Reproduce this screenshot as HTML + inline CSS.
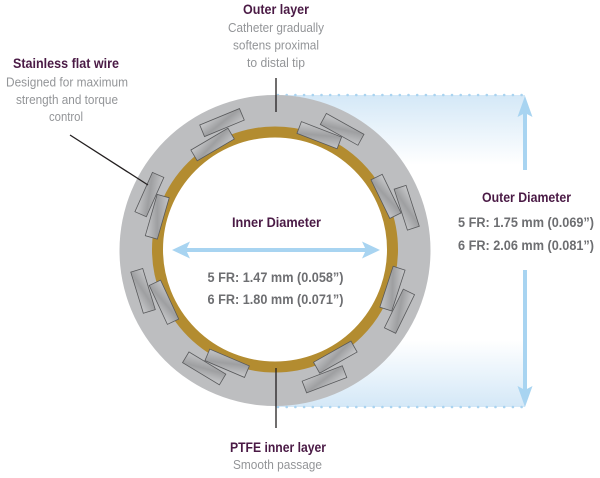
<!DOCTYPE html>
<html>
<head>
<meta charset="utf-8">
<style>
  html, body { margin: 0; padding: 0; background: #ffffff; }
  body { width: 600px; height: 478px; overflow: hidden; }
  svg { display: block; }
  .t { font-family: "Liberation Sans", sans-serif; font-weight: bold; fill: #4a1a45; font-size: 14px; }
  .d { font-family: "Liberation Sans", sans-serif; fill: #939598; font-size: 13px; }
  .n { font-family: "Liberation Sans", sans-serif; font-weight: bold; fill: #6d6e71; font-size: 13.5px; }
</style>
</head>
<body>
<svg width="600" height="478" viewBox="0 0 600 478" xmlns="http://www.w3.org/2000/svg">
  <defs>
    <linearGradient id="gTop" x1="0" y1="0" x2="0" y2="1">
      <stop offset="0" stop-color="#d4e8f7"/>
      <stop offset="1" stop-color="#ffffff"/>
    </linearGradient>
    <linearGradient id="gBot" x1="0" y1="0" x2="0" y2="1">
      <stop offset="0" stop-color="#ffffff"/>
      <stop offset="1" stop-color="#d4e8f7"/>
    </linearGradient>
    <linearGradient id="wire" x1="0" y1="0" x2="1" y2="1">
      <stop offset="0" stop-color="#c9cacc"/>
      <stop offset="0.5" stop-color="#9e9fa1"/>
      <stop offset="1" stop-color="#c4c5c7"/>
    </linearGradient>
    <g id="w">
      <rect x="-21.5" y="-6.25" width="43" height="12.5" fill="url(#wire)" stroke="#58595b" stroke-width="0.8"/>
    </g>
  </defs>

  <!-- blue gradient bands -->
  <rect x="275" y="95" width="250" height="70" fill="url(#gTop)"/>
  <rect x="275" y="340" width="250" height="67" fill="url(#gBot)"/>

  <!-- dotted lines -->
  <g fill="#a9d3f0">
    <circle cx="278" cy="95" r="1.3"/><circle cx="286.7" cy="95" r="1.3"/><circle cx="295.4" cy="95" r="1.3"/><circle cx="304.1" cy="95" r="1.3"/><circle cx="312.8" cy="95" r="1.3"/><circle cx="321.5" cy="95" r="1.3"/><circle cx="330.2" cy="95" r="1.3"/><circle cx="338.9" cy="95" r="1.3"/><circle cx="347.6" cy="95" r="1.3"/><circle cx="356.3" cy="95" r="1.3"/><circle cx="365" cy="95" r="1.3"/><circle cx="373.7" cy="95" r="1.3"/><circle cx="382.4" cy="95" r="1.3"/><circle cx="391.1" cy="95" r="1.3"/><circle cx="399.8" cy="95" r="1.3"/><circle cx="408.5" cy="95" r="1.3"/><circle cx="417.2" cy="95" r="1.3"/><circle cx="425.9" cy="95" r="1.3"/><circle cx="434.6" cy="95" r="1.3"/><circle cx="443.3" cy="95" r="1.3"/><circle cx="452" cy="95" r="1.3"/><circle cx="460.7" cy="95" r="1.3"/><circle cx="469.4" cy="95" r="1.3"/><circle cx="478.1" cy="95" r="1.3"/><circle cx="486.8" cy="95" r="1.3"/><circle cx="495.5" cy="95" r="1.3"/><circle cx="504.2" cy="95" r="1.3"/><circle cx="512.9" cy="95" r="1.3"/><circle cx="521.6" cy="95" r="1.3"/>
    <circle cx="278" cy="407" r="1.3"/><circle cx="286.7" cy="407" r="1.3"/><circle cx="295.4" cy="407" r="1.3"/><circle cx="304.1" cy="407" r="1.3"/><circle cx="312.8" cy="407" r="1.3"/><circle cx="321.5" cy="407" r="1.3"/><circle cx="330.2" cy="407" r="1.3"/><circle cx="338.9" cy="407" r="1.3"/><circle cx="347.6" cy="407" r="1.3"/><circle cx="356.3" cy="407" r="1.3"/><circle cx="365" cy="407" r="1.3"/><circle cx="373.7" cy="407" r="1.3"/><circle cx="382.4" cy="407" r="1.3"/><circle cx="391.1" cy="407" r="1.3"/><circle cx="399.8" cy="407" r="1.3"/><circle cx="408.5" cy="407" r="1.3"/><circle cx="417.2" cy="407" r="1.3"/><circle cx="425.9" cy="407" r="1.3"/><circle cx="434.6" cy="407" r="1.3"/><circle cx="443.3" cy="407" r="1.3"/><circle cx="452" cy="407" r="1.3"/><circle cx="460.7" cy="407" r="1.3"/><circle cx="469.4" cy="407" r="1.3"/><circle cx="478.1" cy="407" r="1.3"/><circle cx="486.8" cy="407" r="1.3"/><circle cx="495.5" cy="407" r="1.3"/><circle cx="504.2" cy="407" r="1.3"/><circle cx="512.9" cy="407" r="1.3"/><circle cx="521.6" cy="407" r="1.3"/>
  </g>

  <!-- ring -->
  <circle cx="275" cy="250.5" r="155.5" fill="#bdbec0"/>
  <circle cx="275" cy="249.5" r="117.5" fill="#ffffff" stroke="#b38c30" stroke-width="11"/>

  <!-- wires: outer then inner for each pair -->
  <g>
    <use href="#w" transform="rotate(29 275 250.5) translate(275 112)"/>
    <use href="#w" transform="rotate(21 275 250.5) translate(275 127)"/>

    <use href="#w" transform="rotate(72 275 250.5) translate(275 112)"/>
    <use href="#w" transform="rotate(64 275 250.5) translate(275 127)"/>

    <use href="#w" transform="rotate(116 275 250.5) translate(275 112)"/>
    <use href="#w" transform="rotate(108 275 250.5) translate(275 127)"/>

    <use href="#w" transform="rotate(159 275 250.5) translate(275 112.5)"/>
    <use href="#w" transform="rotate(150.5 275 250.5) translate(275 128)"/>

    <use href="#w" transform="rotate(211 275 250.5) translate(275 113)"/>
    <use href="#w" transform="rotate(203 275 250.5) translate(275 128)"/>

    <use href="#w" transform="rotate(253 275 250.5) translate(275 112.5)"/>
    <use href="#w" transform="rotate(245 275 250.5) translate(275 128)"/>

    <use href="#w" transform="rotate(294 275 250.5) translate(275 113)"/>
    <use href="#w" transform="rotate(286 275 250.5) translate(275 128)"/>

    <use href="#w" transform="rotate(337.5 275 250.5) translate(275 112)"/>
    <use href="#w" transform="rotate(329.5 275 250.5) translate(275 127.5)"/>
  </g>

  <!-- inner diameter arrow -->
  <g fill="#a8d4f1">
    <rect x="186" y="248" width="180" height="4"/>
    <polygon points="172,250 190,241.5 186,250 190,258.5"/>
    <polygon points="380,250 362,241.5 366,250 362,258.5"/>
  </g>

  <!-- outer diameter arrow -->
  <g fill="#a8d4f1">
    <rect x="523" y="112" width="4" height="58"/>
    <polygon points="525,96 532.5,117 525,113 517.5,117"/>
    <rect x="523" y="270" width="4" height="122"/>
    <polygon points="525,407 532.5,386 525,390 517.5,386"/>
  </g>

  <!-- leader lines -->
  <g stroke="#231f20" stroke-width="1.3">
    <line x1="276" y1="78" x2="276" y2="112"/>
    <line x1="70" y1="135" x2="148" y2="185"/>
    <line x1="276" y1="368" x2="276" y2="428"/>
  </g>

  <!-- text: outer layer -->
  <text class="t" x="276" y="14" text-anchor="middle" textLength="66" lengthAdjust="spacingAndGlyphs">Outer layer</text>
  <text class="d" x="276" y="32" text-anchor="middle" textLength="96" lengthAdjust="spacingAndGlyphs">Catheter gradually</text>
  <text class="d" x="276" y="49.5" text-anchor="middle" textLength="86" lengthAdjust="spacingAndGlyphs">softens proximal</text>
  <text class="d" x="276" y="67" text-anchor="middle" textLength="58" lengthAdjust="spacingAndGlyphs">to distal tip</text>

  <!-- text: stainless flat wire -->
  <text class="t" x="66" y="68" text-anchor="middle" textLength="106" lengthAdjust="spacingAndGlyphs">Stainless flat wire</text>
  <text class="d" x="67" y="86.5" text-anchor="middle" textLength="122" lengthAdjust="spacingAndGlyphs">Designed for maximum</text>
  <text class="d" x="67" y="104" text-anchor="middle" textLength="102" lengthAdjust="spacingAndGlyphs">strength and torque</text>
  <text class="d" x="66" y="121" text-anchor="middle" textLength="34" lengthAdjust="spacingAndGlyphs">control</text>

  <!-- text: inner diameter -->
  <text class="t" x="276.5" y="227" text-anchor="middle" textLength="89" lengthAdjust="spacingAndGlyphs">Inner Diameter</text>
  <text class="n" x="275.5" y="282" text-anchor="middle" textLength="136" lengthAdjust="spacingAndGlyphs">5 FR: 1.47 mm (0.058”)</text>
  <text class="n" x="275.5" y="304" text-anchor="middle" textLength="136" lengthAdjust="spacingAndGlyphs">6 FR: 1.80 mm (0.071”)</text>

  <!-- text: outer diameter -->
  <text class="t" x="526.5" y="202" text-anchor="middle" textLength="89" lengthAdjust="spacingAndGlyphs">Outer Diameter</text>
  <text class="n" x="526" y="227" text-anchor="middle" textLength="136" lengthAdjust="spacingAndGlyphs">5 FR: 1.75 mm (0.069”)</text>
  <text class="n" x="526" y="250" text-anchor="middle" textLength="136" lengthAdjust="spacingAndGlyphs">6 FR: 2.06 mm (0.081”)</text>

  <!-- text: PTFE -->
  <text class="t" x="278" y="452" text-anchor="middle" textLength="96" lengthAdjust="spacingAndGlyphs">PTFE inner layer</text>
  <text class="d" x="277.5" y="469" text-anchor="middle" textLength="89" lengthAdjust="spacingAndGlyphs">Smooth passage</text>
</svg>
</body>
</html>
